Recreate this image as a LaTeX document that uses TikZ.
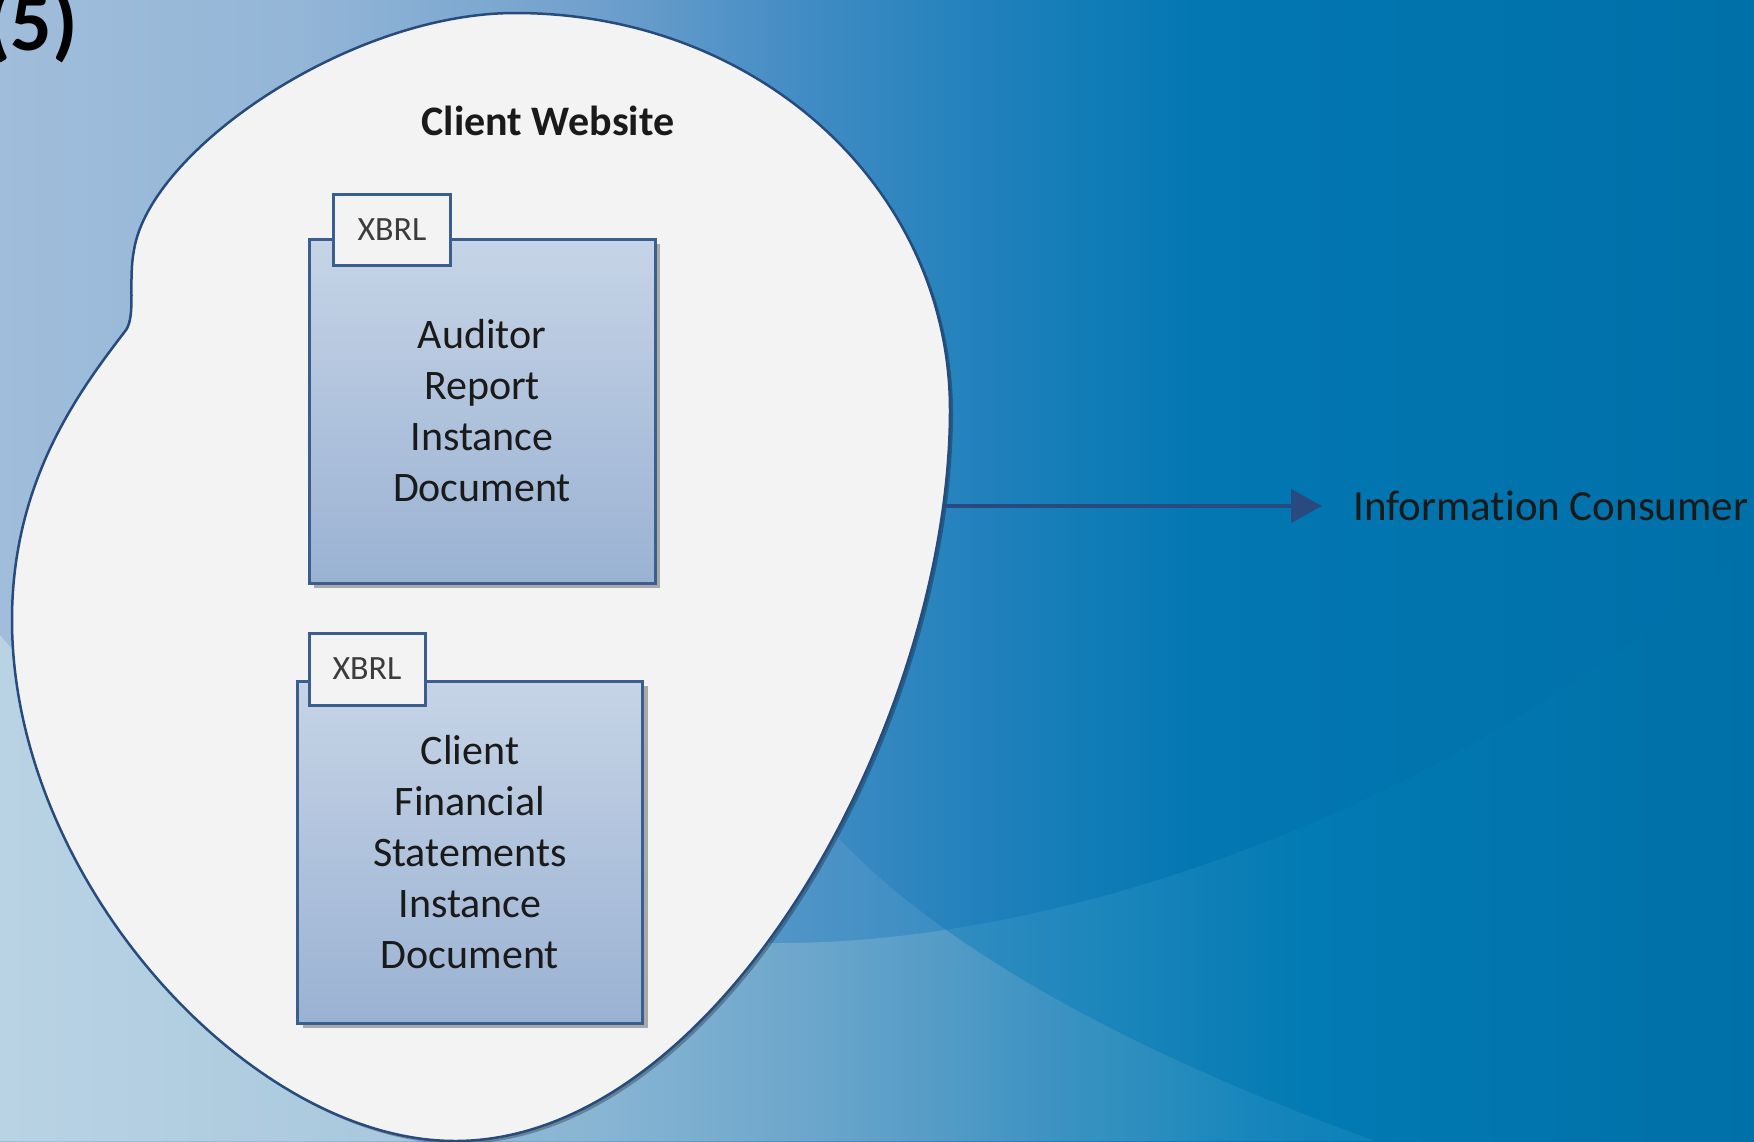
\documentclass[tikz,border=0pt]{standalone}
\usepackage{fontspec}
\setmainfont{Carlito}[Ligatures=NoCommon]
\usetikzlibrary{arrows.meta,shadows}
\definecolor{bg0}{RGB}{160,189,219}
\definecolor{bg1}{RGB}{148,182,215}
\definecolor{bg2}{RGB}{112,160,205}
\definecolor{bg3}{RGB}{66,140,196}
\definecolor{bg4}{RGB}{30,128,187}
\definecolor{bg5}{RGB}{2,119,178}
\definecolor{bg6}{RGB}{0,112,168}
% B-only (below the wide bowl)
\definecolor{lb0}{HTML}{B9D3E4}
\definecolor{lb1}{HTML}{A9C8DD}
\definecolor{lb2}{HTML}{4A93C5}
\definecolor{lb3}{HTML}{2A8ABF}
\definecolor{lb4}{HTML}{1C86BB}
\definecolor{lb5}{HTML}{027AB3}
\definecolor{lb6}{HTML}{0070A8}
% A-only
\definecolor{ao0}{HTML}{6FA6D2}
\definecolor{ao1}{HTML}{4F94C7}
\definecolor{ao2}{HTML}{3A8DC2}
\definecolor{ao3}{HTML}{2587BE}
\definecolor{ao4}{HTML}{1282BB}
% A and B
\definecolor{ab0}{HTML}{90B9D5}
\definecolor{ab1}{HTML}{88B5D3}
\definecolor{ab2}{HTML}{6AA5CB}
\definecolor{ab3}{HTML}{529BC6}
\definecolor{ab4}{HTML}{3F93C2}
\definecolor{ab5}{HTML}{3190BF}
\definecolor{ab6}{HTML}{1585BB}
\definecolor{ab7}{HTML}{0D81B8}
\definecolor{blobfill}{RGB}{243,243,243}
\definecolor{blobline}{RGB}{40,75,125}
\definecolor{boxline}{RGB}{58,95,142}
\definecolor{boxtop}{RGB}{198,212,230}
\definecolor{boxbot}{RGB}{154,178,211}
\definecolor{tabfill}{RGB}{243,243,243}
\definecolor{txt}{RGB}{26,26,26}
\definecolor{arrowcol}{RGB}{40,74,126}
\pgfdeclarehorizontalshading{bgshade}{100bp}{color(0bp)=(bg0); color(25bp)=(bg0); color(33.5bp)=(bg1); color(42bp)=(bg2); color(47.8bp)=(bg3); color(53.5bp)=(bg4); color(59.2bp)=(bg5); color(75bp)=(bg6); color(100bp)=(bg6)}
\pgfdeclarehorizontalshading{lightB}{100bp}{color(0bp)=(lb0); color(25bp)=(lb0); color(36.4bp)=(lb1); color(47.8bp)=(lb2); color(53.5bp)=(lb3); color(56.4bp)=(lb4); color(62.3bp)=(lb5); color(75bp)=(lb6); color(100bp)=(lb6)}
\pgfdeclarehorizontalshading{lightAo}{100bp}{color(0bp)=(ao0); color(25bp)=(ao0); color(43.75bp)=(ao1); color(51.9bp)=(ao2); color(60.05bp)=(ao3); color(75bp)=(ao4); color(100bp)=(ao4)}
\pgfdeclarehorizontalshading{lightAB}{100bp}{color(0bp)=(ab0); color(25bp)=(ab0); color(32.9bp)=(ab1); color(44.9bp)=(ab2); color(51.9bp)=(ab3); color(56.8bp)=(ab4); color(60.9bp)=(ab5); color(68.9bp)=(ab6); color(75bp)=(ab7); color(100bp)=(ab7)}
\begin{document}
\begin{tikzpicture}[x=1pt,y=-1pt,
  docbox/.style={draw=boxline, line width=3pt, top color=boxtop, bottom color=boxbot,
    inner sep=0pt, align=center, text=txt, font=\fontsize{42}{51}\selectfont,
    drop shadow={shadow xshift=5pt, shadow yshift=-5pt, fill=black, opacity=0.3}},
  tabbox/.style={draw=boxline, line width=3pt, fill=tabfill, inner sep=0pt,
    text=txt!85, font=\fontsize{34}{40}\selectfont},
  lbl/.style={inner sep=0pt, text=txt},
  conn/.style={draw=arrowcol, line width=4pt, -{Triangle[length=31pt,width=33pt]}}
]
\useasboundingbox (0,0) rectangle (1754,1141);
% background
\shade[shading=bgshade] (0,0) rectangle (1754,1141);
\def\regionB{(0,635) .. controls (150,815) and (450,943) .. (780,943) .. controls (1100,943) and (1500,780) .. (1754,540) -- (1754,1141) -- (0,1141) -- cycle}
\def\regionA{(1375,1141) .. controls (1150,1060) and (960,960) .. (850,850) -- (700,700) -- (455,1141) -- cycle}
\shade[shading=lightB] \regionB;
\shade[shading=lightAo] \regionA;
\begin{scope}
  \clip \regionB;
  \shade[shading=lightAB] \regionA;
\end{scope}
% blob shadow and blob
\def\blobpath{(515,13) .. controls (760,13) and (950,190) .. (950,410)
  .. controls (950,720) and (720,1141) .. (455,1141)
  .. controls (250,1141) and (12,880) .. (12,620)
  .. controls (12,480) and (80,390) .. (126,330)
  .. controls (136,315) and (128,280) .. (134,250)
  .. controls (150,150) and (350,13) .. (515,13) -- cycle}
\fill[black, opacity=0.28, xshift=3pt, yshift=-3pt] \blobpath;
\path[fill=blobfill, draw=blobline, line width=2.5pt] \blobpath;
\coordinate (blobE) at (943,506);
% title
\node[lbl, font=\bfseries\fontsize{42}{50}\selectfont] (title) at (548,121) {Client Website};
\node[lbl, anchor=base east, text=black, font=\bfseries\fontsize{82}{90}\selectfont] (num) at (78,50) {(5)};
% documents
\node[docbox, minimum width=346pt, minimum height=344pt] (doc1) at (482,411) {Auditor\\Report\\Instance\\Document};
\node[tabbox, minimum width=117pt, minimum height=71pt] (tab1) at (392,230) {XBRL};
\node[docbox, minimum width=345pt, minimum height=342pt] (doc2) at (470,852) {Client\\Financial\\Statements\\Instance\\Document};
\node[tabbox, minimum width=116pt, minimum height=72pt] (tab2) at (367,669) {XBRL};
% consumer
\node[lbl, anchor=base west, font=\fontsize{43}{50}\selectfont] (consumer) at (1353,520) {Information Consumer};
\draw[conn, shorten >=31pt] (blobE) -- (blobE -| consumer.west);
\end{tikzpicture}
\end{document}
